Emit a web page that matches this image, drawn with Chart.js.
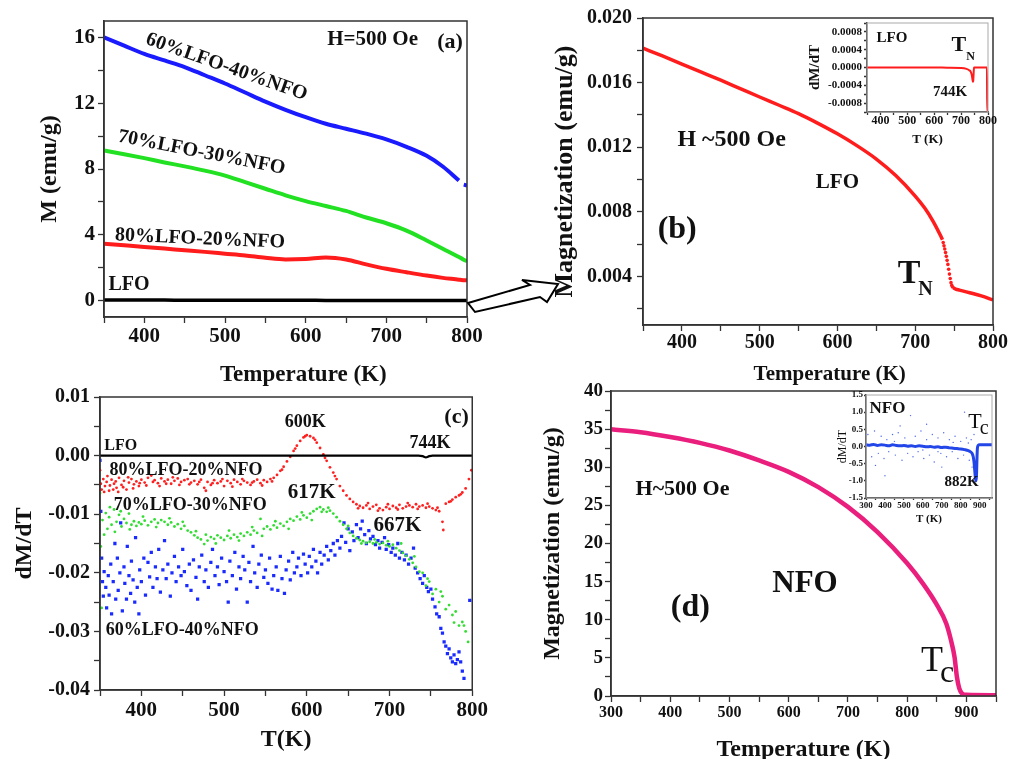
<!DOCTYPE html>
<html><head><meta charset="utf-8">
<script src="https://cdn.jsdelivr.net/npm/chart.js@4/dist/chart.umd.min.js"></script>
<style>
html,body{margin:0;padding:0;background:#fff;width:1013px;height:759px;overflow:hidden;position:relative}
canvas{position:absolute}
svg{position:absolute;left:0;top:0}
</style></head><body>
<canvas id="ca" width="488" height="390" style="left:0px;top:0px"></canvas>
<canvas id="cb" width="473" height="390" style="left:540px;top:0px"></canvas>
<canvas id="cc" width="492" height="384" style="left:0px;top:375px"></canvas>
<canvas id="cd" width="483" height="393" style="left:530px;top:372px"></canvas>
<canvas id="cib" width="198" height="138" style="left:805px;top:12px"></canvas>
<canvas id="cid" width="168" height="140" style="left:832px;top:388px"></canvas>
<svg width="1013" height="759"><polygon points="468,303 530,285 522,280 558,284 547,302 540,297 475,312" fill="#fff" stroke="#000" stroke-width="2" stroke-linejoin="miter"/></svg>
<script>
// ---------------- DATA ----------------
// Panel (a): M (emu/g) vs T (K)
const aT      = [350,375,400,425,450,475,500,525,550,575,600,625,650,675,700,725,750,770,790,793,796,800];
const aBlue   = [16.0,15.5,15.0,14.6,14.2,13.7,13.2,12.65,12.1,11.6,11.15,10.75,10.45,10.15,9.8,9.35,8.8,8.15,7.3,null,7.05,7.0];
const aGreen  = [9.13,8.9,8.66,8.4,8.16,7.9,7.6,7.2,6.8,6.4,6.05,5.75,5.45,5.05,4.7,4.25,3.65,3.15,2.65,2.57,2.48,2.39];
const aRed    = [3.46,3.36,3.26,3.16,3.06,2.96,2.85,2.74,2.6,2.5,2.53,2.62,2.5,2.2,1.93,1.72,1.52,1.38,1.27,1.25,1.24,1.23];
const aBlack  = [0.03,0.03,0.03,0.03,0.02,0.02,0.02,0.02,0.02,0.02,0.02,0.01,0.01,0.01,0.01,0.01,0.01,0.01,0.01,0.01,0.01,0.01];

// Panel (b): LFO magnetization
const bT      = [350,375,400,425,450,475,500,525,550,575,600,625,650,675,700,712,723,733,735];
const bM      = [0.01813,0.01765,0.01715,0.01665,0.01615,0.01563,0.01511,0.01460,0.01408,0.01348,0.01283,0.01210,0.01127,0.01025,0.00898,0.00825,0.00742,0.00649,0.00628];
const bTfast  = [736,737,738,739,740,741,742,743,744,745,746,747,748];
const bMfast  = [0.00610,0.00590,0.00570,0.00548,0.00525,0.00500,0.00475,0.00445,0.00415,0.00388,0.00362,0.00345,0.00335];
const bTtail  = [749,752,757,770,785,800];
const bMtail  = [0.00330,0.00322,0.00316,0.00300,0.00280,0.00255];

// Inset of (b): dM/dT of LFO
const ibT     = [350,400,500,600,650,700,720,730,736,740,742,744,745,746,747,748,760,780,796,797,800];
const ibD     = [0,0,0,0,-0.000005,-0.00001,-0.00003,-0.00006,-0.0001,-0.00018,-0.00026,-0.00032,-0.0003,-0.0002,-0.00008,0,0,0,0,-0.001,-0.001];

// Panel (c): dM/dT scatter [T, dM/dT]
const cLfo = [[350,0],[400,0],[500,0],[600,0],[700,0],[735,0],[740,-0.0001],[744,-0.0003],[748,-0.0001],[752,0],[800,0]];
const cRed = [[350,-0.0025],[352,-0.0058],[354,-0.0040],[356,-0.0052],[358,-0.0045],[361,-0.0060],[364,-0.0041],[367,-0.0048],[370,-0.0055],[373,-0.0038],[376,-0.0050],[379,-0.0043],[382,-0.0058],[385,-0.0046],[388,-0.0040],[391,-0.0049],[394,-0.0044],[397,-0.0052],[400,-0.0041],
[404,-0.0046],[408,-0.0038],[412,-0.0034],[416,-0.0042],[420,-0.0047],[424,-0.0039],[428,-0.0044],[432,-0.0041],[436,-0.0048],[440,-0.0043],
[444,-0.0039],[448,-0.0045],[452,-0.0042],[456,-0.0040],[460,-0.0046],[464,-0.0043],[468,-0.0049],[472,-0.0041],[476,-0.0055],[480,-0.0045],
[484,-0.0050],[488,-0.0042],[492,-0.0047],[496,-0.0044],[500,-0.0052],[504,-0.0043],[508,-0.0047],[512,-0.0041],[516,-0.0045],[520,-0.0049],
[524,-0.0043],[528,-0.0046],[532,-0.0050],[536,-0.0044],[540,-0.0041],[544,-0.0047],[548,-0.0042],[552,-0.0045],[556,-0.0040],[560,-0.0038],
[564,-0.0033],[568,-0.0026],[572,-0.0019],[576,-0.0010],[580,-0.0002],[584,0.0008],[588,0.0017],[592,0.0025],[596,0.0031],[600,0.0035],
[604,0.0033],[608,0.0030],[612,0.0022],[616,0.0013],[620,0.0002],[624,-0.0009],[628,-0.0020],[632,-0.0029],[636,-0.0040],[640,-0.0052],
[644,-0.0060],[648,-0.0068],[652,-0.0074],[656,-0.0079],[660,-0.0083],[664,-0.0086],[668,-0.0089],[672,-0.0085],[676,-0.0091],[680,-0.0087],
[684,-0.0084],[688,-0.0090],[692,-0.0093],[696,-0.0088],[700,-0.0091],[704,-0.0086],[708,-0.0089],[712,-0.0084],[716,-0.0090],[720,-0.0087],
[724,-0.0085],[728,-0.0088],[732,-0.0083],[736,-0.0087],[740,-0.0085],[744,-0.0089],[748,-0.0087],[752,-0.0090],[756,-0.0093],[760,-0.0095],
[764,-0.0113],[765,-0.0127],[768,-0.0082],[772,-0.0079],[776,-0.0075],[780,-0.0071],[784,-0.0068],[788,-0.0063],[792,-0.0056],[796,-0.0040],[799,-0.0025],
[351,-0.0048],[355,-0.0062],[359,-0.0035],[362,-0.0051],[366,-0.0058],[369,-0.0044],[372,-0.0062],[378,-0.0054],[384,-0.0037],[390,-0.0056],[398,-0.0047],
[406,-0.0051],[414,-0.0045],[422,-0.0052],[430,-0.0048],[438,-0.0037],[446,-0.0050],[458,-0.0049],[470,-0.0045],[478,-0.0060],[486,-0.0047],[498,-0.0040],
[510,-0.0053],[522,-0.0040],[534,-0.0046],[546,-0.0051],[558,-0.0044],[570,-0.0024],[586,0.0012],[598,0.0033],[610,0.0027],[622,-0.0004],[634,-0.0035],
[662,-0.0090],[674,-0.0081],[686,-0.0094],[698,-0.0083],[710,-0.0092],[722,-0.0081],[734,-0.0091],[746,-0.0082],[758,-0.0089],[774,-0.0078],[786,-0.0066]];
const cGreen = [[350,-0.0064],[351,-0.0155],[352,-0.0260],[353,-0.0110],[355,-0.0135],[357,-0.0098],[359,-0.0125],[361,-0.0105],[364,-0.0118],[367,-0.0092],[370,-0.0113],[373,-0.0101],[376,-0.0121],[379,-0.0108],[382,-0.0115],[385,-0.0099],[388,-0.0118],[391,-0.0112],[394,-0.0120],[397,-0.0114],[400,-0.0117],
[404,-0.0111],[408,-0.0119],[412,-0.0113],[416,-0.0109],[420,-0.0115],[424,-0.0110],[428,-0.0113],[432,-0.0118],[436,-0.0114],[440,-0.0121],
[444,-0.0117],[448,-0.0125],[452,-0.0120],[456,-0.0128],[460,-0.0131],[464,-0.0136],[468,-0.0140],[472,-0.0143],[476,-0.0151],[480,-0.0145],
[484,-0.0139],[488,-0.0142],[492,-0.0136],[496,-0.0140],[500,-0.0144],[504,-0.0137],[508,-0.0141],[512,-0.0135],[516,-0.0139],[520,-0.0133],
[524,-0.0137],[528,-0.0131],[532,-0.0135],[536,-0.0128],[540,-0.0132],[544,-0.0108],[548,-0.0125],[552,-0.0121],[556,-0.0126],[560,-0.0119],
[564,-0.0123],[568,-0.0116],[572,-0.0120],[576,-0.0113],[580,-0.0108],[584,-0.0111],[588,-0.0104],[592,-0.0109],[596,-0.0102],[600,-0.0106],
[604,-0.0099],[608,-0.0095],[612,-0.0091],[616,-0.0088],[620,-0.0092],[624,-0.0096],[628,-0.0094],[632,-0.0099],[636,-0.0105],[640,-0.0112],
[644,-0.0118],[648,-0.0125],[652,-0.0132],[656,-0.0137],[660,-0.0141],[664,-0.0144],[668,-0.0146],[672,-0.0149],[676,-0.0147],[680,-0.0150],
[684,-0.0148],[688,-0.0151],[692,-0.0149],[696,-0.0153],[700,-0.0155],[704,-0.0152],[708,-0.0158],[712,-0.0162],[716,-0.0166],[720,-0.0171],
[724,-0.0177],[728,-0.0183],[732,-0.0190],[736,-0.0198],[740,-0.0200],[744,-0.0222],[748,-0.0215],[752,-0.0236],[756,-0.0228],[760,-0.0250],
[764,-0.0240],[768,-0.0262],[772,-0.0255],[776,-0.0272],[780,-0.0266],[784,-0.0290],[788,-0.0284],[792,-0.0300],[795,-0.0318],
[362,-0.0088],[368,-0.0130],[375,-0.0095],[386,-0.0126],[402,-0.0104],[418,-0.0122],[434,-0.0107],[450,-0.0113],[466,-0.0129],[478,-0.0135],[490,-0.0150],
[506,-0.0128],[518,-0.0145],[534,-0.0122],[546,-0.0137],[562,-0.0112],[578,-0.0125],[594,-0.0097],[606,-0.0110],[618,-0.0096],[626,-0.0089],[650,-0.0120],
[666,-0.0150],[682,-0.0143],[698,-0.0146],[714,-0.0150],[730,-0.0172],[746,-0.0210],[762,-0.0232],[778,-0.0285],[790,-0.0290]];
const cBlue = [[350,-0.0008],[351,-0.0095],[352,-0.0175],[353,-0.0215],[354,-0.0240],[355,-0.0198],[357,-0.0225],[358,-0.0260],[360,-0.0205],[361,-0.0238],[363,-0.0185],[364,-0.0270],[366,-0.0215],[368,-0.0150],[369,-0.0245],[371,-0.0175],[372,-0.0230],[374,-0.0200],[375,-0.0115],[377,-0.0265],[379,-0.0190],[380,-0.0218],[382,-0.0245],[383,-0.0155],[385,-0.0205],[387,-0.0235],[388,-0.0180],[390,-0.0212],[392,-0.0250],[393,-0.0140],[395,-0.0225],[397,-0.0270],[398,-0.0195],[400,-0.0215],
[403,-0.0175],[405,-0.0238],[408,-0.0182],[410,-0.0207],[412,-0.0165],[414,-0.0225],[417,-0.0190],[419,-0.0210],[421,-0.0160],[423,-0.0233],[426,-0.0195],[428,-0.0145],[430,-0.0210],[432,-0.0185],[435,-0.0240],[437,-0.0200],[440,-0.0172],[442,-0.0215],[445,-0.0190],[448,-0.0205],[450,-0.0160],[452,-0.0198],[455,-0.0222],[458,-0.0185],[460,-0.0230],[463,-0.0178],[466,-0.0208],[468,-0.0245],[470,-0.0190],[473,-0.0170],[476,-0.0215],[478,-0.0195],[481,-0.0225],[484,-0.0182],[486,-0.0160],[489,-0.0205],[492,-0.0190],[494,-0.0220],[497,-0.0175],[500,-0.0198],
[503,-0.0215],[505,-0.0250],[507,-0.0180],[510,-0.0205],[513,-0.0165],[515,-0.0228],[518,-0.0190],[520,-0.0210],[523,-0.0172],[525,-0.0195],[528,-0.0250],[530,-0.0182],[532,-0.0215],[535,-0.0155],[537,-0.0200],[540,-0.0225],[542,-0.0185],[545,-0.0170],[548,-0.0208],[550,-0.0195],[553,-0.0218],[555,-0.0175],[558,-0.0228],[560,-0.0205],[563,-0.0190],[565,-0.0230],[568,-0.0172],[570,-0.0210],[573,-0.0235],[575,-0.0195],[578,-0.0180],[580,-0.0212],[583,-0.0165],[585,-0.0200],[588,-0.0190],[590,-0.0175],[593,-0.0205],[596,-0.0168],[598,-0.0185],
[601,-0.0200],[603,-0.0172],[606,-0.0190],[608,-0.0160],[611,-0.0180],[613,-0.0200],[616,-0.0165],[618,-0.0185],[621,-0.0170],[624,-0.0155],[626,-0.0178],[629,-0.0162],[632,-0.0150],[634,-0.0170],[637,-0.0145],[640,-0.0158],[642,-0.0138],[645,-0.0115],[647,-0.0148],[650,-0.0125],[652,-0.0162],[655,-0.0130],[657,-0.0145],[660,-0.0118],[662,-0.0140],[665,-0.0125],[667,-0.0112],[670,-0.0135],[672,-0.0150],[675,-0.0128],[677,-0.0142],[680,-0.0138],[683,-0.0152],[686,-0.0145],[688,-0.0158],[691,-0.0148],[694,-0.0140],[696,-0.0160],[699,-0.0152],
[702,-0.0165],[704,-0.0158],[707,-0.0170],[710,-0.0150],[712,-0.0175],[715,-0.0165],[718,-0.0178],[720,-0.0170],[723,-0.0185],[726,-0.0175],[729,-0.0158],[731,-0.0192],[734,-0.0200],[737,-0.0210],[740,-0.0218],[742,-0.0205],[745,-0.0225],[747,-0.0232],[750,-0.0228],[752,-0.0245],[755,-0.0258],[757,-0.0270],[760,-0.0275],[762,-0.0295],[764,-0.0303],[766,-0.0318],[768,-0.0325],[770,-0.0338],[772,-0.0330],[774,-0.0345],[776,-0.0352],[778,-0.0340],[780,-0.0355],[782,-0.0348],[784,-0.0335],[786,-0.0352],[788,-0.0368],[790,-0.0380],[797,-0.0247]];

// Panel (d): NFO magnetization
const dT = [300,350,400,450,500,550,600,650,700,750,800,827,849,866,874,880,884,888,893,900,950];
const dM = [34.98,34.6,33.97,33.2,32.2,30.9,29.4,27.4,24.8,21.5,17.4,14.7,12.1,9.5,7.3,5.1,2.5,1.0,0.3,0.15,0.1];

// Inset of (d): dM/dT of NFO
const idBand = [[300,0.05],[320,0.04],[340,0.06],[360,0.03],[380,0.05],[400,0.04],[420,0.02],[440,0.05],[460,0.03],[480,0.02],[500,0.03],[520,0.01],[540,0.02],[560,0.0],[580,0.02],[600,0.01],[620,-0.01],[640,0.0],[660,-0.02],[680,-0.01],[700,-0.03],[720,-0.02],[740,-0.04],[760,-0.05],[780,-0.06],[800,-0.07],[820,-0.09],[840,-0.12],[850,-0.15],[860,-0.2],[866,-0.3],[870,-0.45],[874,-0.7],[878,-0.95],[882,-1.0],[884,-0.7],[886,-0.3],[888,-0.05],[892,0.03],[900,0.05],[920,0.05],[940,0.05],[965,0.05]];
const idOut = [[310,0.35],[330,-0.3],[345,0.45],[365,-0.2],[380,0.3],[395,-0.35],[410,0.2],[420,-0.15],[440,0.35],[455,-0.25],[470,0.4],[490,-0.4],[505,0.25],[520,-0.2],[535,0.9],[548,-0.3],[560,0.3],[575,-0.15],[590,0.45],[605,-0.35],[620,0.2],[635,-0.25],[650,0.35],[660,-0.45],[680,0.25],[695,-0.2],[710,0.4],[725,-0.3],[740,0.2],[755,-0.15],[770,0.3],[785,-0.35],[800,0.15],[815,-0.25],[830,0.25],[845,-0.4],[855,0.2],[400,-0.85],[480,0.6],[620,0.65],[700,-0.6],[820,1.0],[860,-0.6],[870,0.35],[350,-0.55],[450,0.15],[600,-0.1],[680,-0.15],[760,0.12],[840,0.1]];

// ---------------- RENDERING ----------------
const FONT = "'Liberation Serif','Times New Roman',serif";
const AX = '#333';
const zip = (xs, ys) => xs.map((x, i) => ({x: x, y: ys[i]}));
const pts = arr => arr.map(p => ({x: p[0], y: p[1]}));
const mult = (v, m) => Math.abs(v / m - Math.round(v / m)) < 1e-6;

const decor = {
  id: 'decor',
  beforeDraw(chart, args, o) {
    if (!o || !o.fill) return;
    const a = chart.chartArea, c = chart.ctx;
    c.save(); c.fillStyle = o.fill; c.fillRect(a.left, a.top, a.width, a.height); c.restore();
  },
  afterDraw(chart, args, o) {
    if (!o) return;
    const c = chart.ctx, a = chart.chartArea;
    if (o.frame) {
      c.save(); c.strokeStyle = o.frame; c.lineWidth = o.frameWidth || 1.5;
      c.strokeRect(a.left, a.top, a.width, a.height); c.restore();
    }
    (o.texts || []).forEach(t => {
      const x = chart.scales.x.getPixelForValue(t.x);
      const y = (t.py != null) ? t.py : chart.scales.y.getPixelForValue(t.y);
      c.save(); c.translate(x, y); if (t.rot) c.rotate(t.rot * Math.PI / 180);
      c.fillStyle = t.c || '#111'; c.textBaseline = 'middle'; c.textAlign = 'center';
      c.font = (t.w || 'bold') + ' ' + t.s + 'px ' + FONT;
      c.fillText(t.t, 0, 0);
      if (t.sub) {
        const w = c.measureText(t.t).width;
        c.font = (t.w || 'bold') + ' ' + t.ss + 'px ' + FONT;
        c.textAlign = 'left';
        c.fillText(t.sub, w / 2 + t.sdx, t.sdy);
      }
      c.restore();
    });
  }
};

function scale(o, pos) {
  return {
    type: 'linear', position: pos, min: o.min, max: o.max,
    afterFit: s => { if (pos === 'left') s.width = o.size; else s.height = o.size; },
    grid: {
      drawOnChartArea: false, drawTicks: true, tickLength: o.tl || 6, tickWidth: 1.3,
      color: AX,
      tickColor: ctx => (!o.minor || (ctx.tick && mult(ctx.tick.value, o.minor))) ? AX : 'rgba(0,0,0,0)'
    },
    border: {display: true, color: AX, width: 1.5},
    ticks: {
      stepSize: o.step, autoSkip: false, includeBounds: false, maxRotation: 0, minRotation: 0,
      padding: o.pad, color: '#111',
      font: {family: FONT, size: o.fs, weight: 'bold', lineHeight: 1},
      callback: v => mult(v, o.major) ? o.fmt(Math.abs(v) < 1e-12 ? 0 : v) : ''
    },
    title: {
      display: o.title != null, text: o.title, color: '#111',
      font: {family: FONT, size: o.ts, weight: o.tw || 'bold', lineHeight: 1.2},
      padding: {top: o.tp, bottom: o.tp}
    }
  };
}

function makeChart(id, cfg) {
  return new Chart(document.getElementById(id), {
    type: 'line',
    data: {datasets: cfg.datasets},
    options: {
      responsive: false, animation: false, devicePixelRatio: 1, events: [],
      layout: {padding: {top: cfg.top, right: cfg.right, left: 0, bottom: 0}},
      plugins: {legend: {display: false}, tooltip: {enabled: false}, decor: cfg.decor},
      scales: {x: scale(cfg.x, 'bottom'), y: scale(cfg.y, 'left')}
    },
    plugins: [decor]
  });
}

const line = (data, color, w) => ({data, borderColor: color, backgroundColor: color, borderWidth: w, pointRadius: 0, cubicInterpolationMode: 'monotone', spanGaps: false, fill: false});
const dots = (data, color, r, style) => ({data, showLine: false, borderWidth: 0, pointRadius: r, pointStyle: style || 'circle', pointBackgroundColor: color, pointBorderColor: color, pointBorderWidth: 0});
const S = v => String(v);

// (a)
makeChart('ca', {
  top: 21, right: 21,
  x: {min: 350, max: 800, step: 50, major: 100, fs: 21, pad: 3, fmt: S, size: 73},
  y: {min: -1, max: 17, step: 1, minor: 2, major: 4, fs: 21, pad: 3, fmt: S, title: 'M (emu/g)', ts: 24, tp: 35.6, size: 104},
  datasets: [line(zip(aT, aBlack), '#000', 3.5), line(zip(aT, aRed), '#ff1c1c', 4), line(zip(aT, aGreen), '#22e022', 4), line(zip(aT, aBlue), '#1a1aff', 4)],
  decor: {frame: AX, texts: [
    {t: 'Temperature (K)', x: 597, py: 375, s: 23},
    {t: '60%LFO-40%NFO', x: 502, y: 14.2, s: 20, rot: 19.5},
    {t: '70%LFO-30%NFO', x: 471, y: 9.0, s: 20, rot: 11},
    {t: '80%LFO-20%NFO', x: 469, y: 3.75, s: 20, rot: 2.5},
    {t: 'LFO', x: 381, y: 0.97, s: 20},
    {t: 'H=500 Oe', x: 683, y: 15.85, s: 21},
    {t: '(a)', x: 779, y: 15.7, s: 22}
  ]}
});

// (b)
makeChart('cb', {
  top: 18, right: 20,
  x: {min: 350, max: 800, step: 50, major: 100, fs: 20, pad: 2, fmt: S, size: 65},
  y: {min: 0.001, max: 0.020, step: 0.002, major: 0.004, fs: 20, pad: 5, fmt: v => v.toFixed(3), title: 'Magnetization (emu/g)', ts: 26, tp: 9.4, size: 103},
  datasets: [line(zip(bT, bM), '#ff1c1c', 3.5), dots(zip(bTfast, bMfast), '#ff1c1c', 1.8), line(zip(bTtail, bMtail), '#ff1c1c', 3.5)],
  decor: {frame: AX, texts: [
    {t: 'Temperature (K)', x: 590, py: 375, s: 21},
    {t: 'H ~500 Oe', x: 464, y: 0.01245, s: 24},
    {t: 'LFO', x: 600, y: 0.00979, s: 21},
    {t: '(b)', x: 394, y: 0.00688, s: 32},
    {t: 'T', x: 692, y: 0.00416, s: 34, sub: 'N', ss: 20, sdx: -2, sdy: 16}
  ]}
});

// (c)
makeChart('cc', {
  top: 22, right: 19,
  x: {min: 350, max: 800, step: 50, major: 100, fs: 21, pad: 4, fmt: S, title: 'T(K)', ts: 24, tp: 4.6, size: 69},
  y: {min: -0.04, max: 0.01, step: 0.005, major: 0.01, fs: 20, pad: 4, fmt: v => v.toFixed(2), title: 'dM/dT', ts: 24, tp: 10.6, size: 100},
  datasets: [line(pts(cLfo), '#000', 2.2), dots(pts(cRed), '#ff2020', 1.4), dots(pts(cGreen), '#33dd33', 1.4), dots(pts(cBlue), '#1a2bff', 2.3, 'rect')],
  decor: {frame: AX, texts: [
    {t: 'LFO', x: 375, y: 0.00166, s: 16},
    {t: '80%LFO-20%NFO', x: 454, y: -0.00244, s: 18},
    {t: '70%LFO-30%NFO', x: 459, y: -0.0085, s: 18},
    {t: '60%LFO-40%NFO', x: 449.5, y: -0.02975, s: 18},
    {t: '600K', x: 598, y: 0.00567, s: 18},
    {t: '744K', x: 749, y: 0.00208, s: 18},
    {t: '617K', x: 606, y: -0.00628, s: 21},
    {t: '667K', x: 709.5, y: -0.01191, s: 21},
    {t: '(c)', x: 781, y: 0.00652, s: 22}
  ]}
});

// (d)
makeChart('cd', {
  top: 19, right: 17,
  x: {min: 300, max: 950, step: 50, major: 100, fs: 16, pad: 2.4, fmt: S, title: 'Temperature (K)', ts: 24, tp: 0.6, size: 69},
  y: {min: 0, max: 40, step: 2.5, major: 5, fs: 19, pad: 2, fmt: S, title: 'Magnetization (emu/g)', ts: 24, tp: 8.6, size: 81},
  datasets: [line(zip(dT, dM), '#e91e7d', 4.5)],
  decor: {frame: AX, texts: [
    {t: 'H~500 Oe', x: 420.7, y: 27.1, s: 22},
    {t: 'NFO', x: 627.5, y: 14.7, s: 31},
    {t: '(d)', x: 434, y: 11.57, s: 32},
    {t: 'T', x: 842, y: 4.49, s: 36, w: 'normal', sub: 'c', ss: 32, sdx: -3, sdy: 12}
  ]}
});

// inset (b)
makeChart('cib', {
  top: 11, right: 15,
  x: {min: 350, max: 800, step: 50, major: 100, fs: 12, pad: 0, tl: 3, fmt: S, title: 'T (K)', ts: 13, tp: 2.2, size: 38},
  y: {min: -0.001, max: 0.001, step: 0.0002, major: 0.0004, fs: 11, pad: 2, tl: 3, fmt: v => v.toFixed(4), title: 'dM/dT', ts: 15, tp: 1, size: 62},
  datasets: [line(zip(ibT, ibD), '#ff1c1c', 2)],
  decor: {fill: '#fff', frame: '#aaa', frameWidth: 1, texts: [
    {t: 'LFO', x: 443, y: 0.00067, s: 15},
    {t: 'T', x: 692, y: 0.00049, s: 22, sub: 'N', ss: 12, sdx: 0, sdy: 11},
    {t: '744K', x: 659, y: -0.00055, s: 15}
  ]}
});

// inset (d)
makeChart('cid', {
  top: 7, right: 8,
  x: {min: 300, max: 965, step: 50, major: 100, fs: 9, pad: 1, tl: 2, fmt: S, title: 'T (K)', ts: 11, tp: 2.4, size: 30},
  y: {min: -1.5, max: 1.5, step: 0.5, major: 0.5, fs: 9, pad: 1, tl: 2, fmt: v => v.toFixed(1), title: 'dM/dT', ts: 12, tw: 'normal', tp: 3.8, size: 34},
  datasets: [line(pts(idBand), '#2346e8', 3), dots(pts(idOut), '#4a66ee', 0.7)],
  decor: {fill: '#fff', frame: '#aaa', frameWidth: 1, texts: [
    {t: 'NFO', x: 413, y: 1.11, s: 17},
    {t: 'T', x: 875, y: 0.70, s: 22, w: 'normal', sub: 'c', ss: 20, sdx: -2, sdy: 6.5},
    {t: '882K', x: 804, y: -1.03, s: 15}
  ]}
});
</script>
</body></html>
